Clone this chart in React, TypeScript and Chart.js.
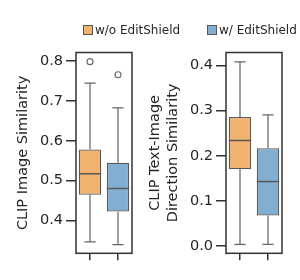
import React, { useEffect, useRef } from 'react';
import { Chart, registerables } from 'chart.js';
Chart.register(...registerables);

const groups = ['w/o EditShield', 'w/ EditShield'];
const fillColors = ['#EFB26F', '#82AFD1'];

// Panel 1: CLIP Image Similarity
const imgQ1 = [0.464, 0.422];
const imgMedian = [0.517, 0.48];
const imgQ3 = [0.578, 0.545];
const imgLow = [0.346, 0.339];
const imgHigh = [0.745, 0.683];
const imgOutliers = [[0.799], [0.766]];
const imgTicks = [0.4, 0.5, 0.6, 0.7, 0.8];

// Panel 2: CLIP Text-Image Direction Similarity
const dirQ1 = [0.17, 0.068];
const dirMedian = [0.234, 0.143];
const dirQ3 = [0.286, 0.217];
const dirLow = [0.004, 0.004];
const dirHigh = [0.408, 0.291];
const dirOutliers: number[][] = [[], []];
const dirTicks = [0.0, 0.1, 0.2, 0.3, 0.4];

const FONT = 'DejaVu Sans';
const LINE = '#666666';
const FRAME = '#333333';
const TEXT = '#262626';

const boxPlugin = {
  id: 'boxExtras',
  afterDatasetsDraw(chart: any, _args: any, opts: any) {
    const { ctx, chartArea, scales } = chart;
    const y = scales.y;
    const meta = chart.getDatasetMeta(0);
    ctx.save();
    meta.data.forEach((bar: any, i: number) => {
      const cx = bar.x;
      const w = bar.width;
      const cap = w / 4;
      ctx.strokeStyle = LINE;
      ctx.lineWidth = 1.25;
      ctx.beginPath();
      ctx.moveTo(cx, y.getPixelForValue(opts.q3[i]));
      ctx.lineTo(cx, y.getPixelForValue(opts.high[i]));
      ctx.moveTo(cx - cap, y.getPixelForValue(opts.high[i]));
      ctx.lineTo(cx + cap, y.getPixelForValue(opts.high[i]));
      ctx.moveTo(cx, y.getPixelForValue(opts.q1[i]));
      ctx.lineTo(cx, y.getPixelForValue(opts.low[i]));
      ctx.moveTo(cx - cap, y.getPixelForValue(opts.low[i]));
      ctx.lineTo(cx + cap, y.getPixelForValue(opts.low[i]));
      ctx.stroke();
      ctx.strokeStyle = '#5a5a5a';
      ctx.lineWidth = 1.5;
      ctx.beginPath();
      ctx.moveTo(cx - w / 2, y.getPixelForValue(opts.median[i]));
      ctx.lineTo(cx + w / 2, y.getPixelForValue(opts.median[i]));
      ctx.stroke();
      ctx.strokeStyle = LINE;
      ctx.lineWidth = 1.1;
      (opts.outliers[i] || []).forEach((v: number) => {
        ctx.beginPath();
        ctx.arc(cx, y.getPixelForValue(v), 3, 0, Math.PI * 2);
        ctx.stroke();
      });
    });
    ctx.strokeStyle = FRAME;
    ctx.lineWidth = 1.5;
    ctx.strokeRect(chartArea.left, chartArea.top, chartArea.right - chartArea.left, chartArea.bottom - chartArea.top);
    ctx.restore();
  },
};

type PanelProps = {
  q1: number[]; median: number[]; q3: number[]; low: number[]; high: number[];
  outliers: number[][]; ticks: number[]; min: number; max: number;
  title: string | string[]; axisWidth: number; titlePad: number;
  left: number; width: number;
};

function Panel(p: PanelProps) {
  const ref = useRef<HTMLCanvasElement>(null);
  useEffect(() => {
    const chart = new Chart(ref.current!, {
      type: 'bar',
      data: {
        labels: groups,
        datasets: [{
          data: p.q1.map((v, i) => [v, p.q3[i]]) as any,
          backgroundColor: fillColors,
          borderColor: '#5a5a5a',
          borderWidth: 1.25,
          borderSkipped: false,
          barPercentage: 0.8,
          categoryPercentage: 1,
        }],
      },
      options: {
        animation: false,
        responsive: false,
        maintainAspectRatio: false,
        layout: { padding: { left: 0, right: p.width - p.axisWidth - 56, top: 52.5, bottom: 280 - 253.3 - 12 } },
        plugins: {
          legend: { display: false },
          tooltip: { enabled: false },
          boxExtras: { q1: p.q1, median: p.median, q3: p.q3, low: p.low, high: p.high, outliers: p.outliers },
        } as any,
        scales: {
          x: {
            offset: true,
            grid: { display: true, drawOnChartArea: false, offset: false, tickLength: 7, tickColor: FRAME, lineWidth: 1.5 } as any,
            border: { display: false },
            ticks: { display: false },
            afterFit: (s: any) => { s.height = 12; },
          },
          y: {
            min: p.min,
            max: p.max,
            afterBuildTicks: (s: any) => { s.ticks = p.ticks.map((v) => ({ value: v })); },
            grid: { display: true, drawOnChartArea: false, tickLength: 10, tickColor: FRAME, lineWidth: 1.5 } as any,
            border: { display: false },
            ticks: {
              padding: 3,
              color: TEXT,
              font: { family: FONT, size: 14.5 },
              callback: (v: any) => Number(v).toFixed(1),
            },
            title: {
              display: true,
              text: p.title,
              color: TEXT,
              font: { family: FONT, size: 14.5, lineHeight: 1.25 },
              padding: { top: p.titlePad, bottom: 0 },
            },
            afterFit: (s: any) => { s.width = p.axisWidth; },
          },
        },
      },
      plugins: [boxPlugin],
    });
    return () => chart.destroy();
  }, []);
  return (
    <canvas
      ref={ref}
      width={p.width}
      height={280}
      style={{ position: 'absolute', left: p.left, top: 0, width: p.width, height: 280 }}
    />
  );
}

function LegendItem({ x, color, label }: { x: number; color: string; label: string }) {
  return (
    <div style={{ position: 'absolute', left: x, top: 22, height: 15, display: 'flex', alignItems: 'center', fontFamily: FONT, fontSize: 12, color: TEXT, whiteSpace: 'nowrap' }}>
      <span style={{ display: 'inline-block', width: 8, height: 8, background: color, border: '1px solid #555', marginRight: 2 }} />
      <span>{label}</span>
    </div>
  );
}

export default function App() {
  return (
    <div style={{ position: 'fixed', left: 0, top: 0, width: 300, height: 280, background: '#fff', overflow: 'hidden' }}>
      <Panel q1={imgQ1} median={imgMedian} q3={imgQ3} low={imgLow} high={imgHigh} outliers={imgOutliers}
        ticks={imgTicks} min={0.317} max={0.822} title="CLIP Image Similarity" axisWidth={76} titlePad={14} left={0} width={150} />
      <Panel q1={dirQ1} median={dirMedian} q3={dirQ3} low={dirLow} high={dirHigh} outliers={dirOutliers}
        ticks={dirTicks} min={-0.016} max={0.429} title={['CLIP Text-Image', 'Direction Similarity']} axisWidth={86} titlePad={6} left={140} width={160} />
      <LegendItem x={83} color={fillColors[0]} label={groups[0]} />
      <LegendItem x={207} color={fillColors[1]} label={groups[1]} />
    </div>
  );
}
